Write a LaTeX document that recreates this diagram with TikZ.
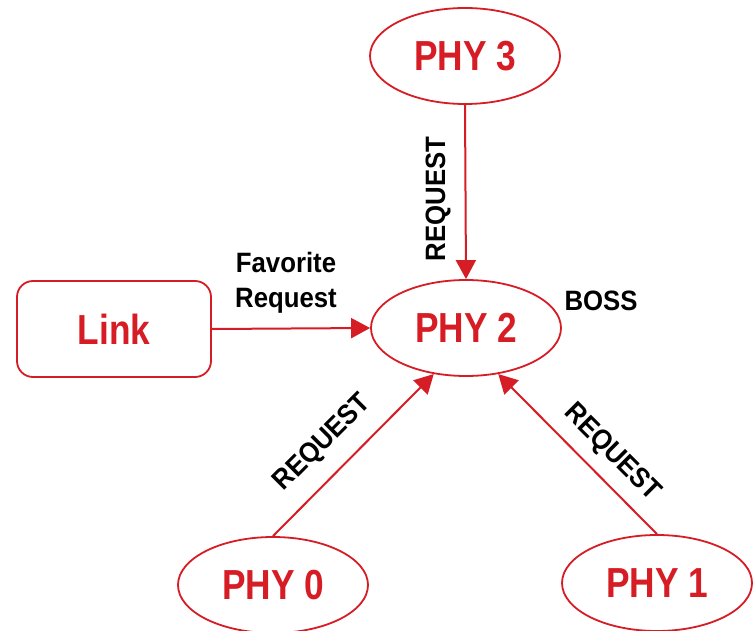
\documentclass[tikz,border=0pt]{standalone}
\usepackage{fontspec}
\usetikzlibrary{shapes.geometric,arrows.meta}
\newfontfamily\nodefont[FakeStretch=0.84]{Liberation Sans}
\newfontfamily\labelfont[FakeStretch=0.92]{Liberation Sans}
\definecolor{phyred}{RGB}{214,28,36}
\tikzset{
  phy/.style={ellipse, draw=phyred, line width=1.8pt, minimum width=190pt,
    minimum height=96pt, inner sep=0pt, text=phyred,
    font=\nodefont\bfseries\fontsize{42}{44}\selectfont},
  linkbox/.style={rectangle, rounded corners=16pt, draw=phyred, line width=1.8pt,
    minimum width=194pt, minimum height=96pt, inner sep=0pt, text=phyred,
    font=\nodefont\bfseries\fontsize{42}{44}\selectfont},
  msg/.style={draw=phyred, line width=2pt,
    -{Triangle[length=19pt,width=20pt]}},
  lbl/.style={text=black, inner sep=0pt,
    font=\labelfont\bfseries\fontsize{28}{35}\selectfont}
}
\begin{document}
\begin{tikzpicture}[x=1pt,y=-1pt]
  \useasboundingbox (0,0) rectangle (755,631);

  % nodes
  \node[phy] (phy3) at (465,56) {PHY 3};
  \node[phy] (phy2) at (466,328) {PHY 2};
  \node[phy] (phy0) at (273,585) {PHY 0};
  \node[phy] (phy1) at (657,583) {PHY 1};
  \node[linkbox] (link) at (114,329) {Link};

  % requests towards the boss
  \draw[msg] (phy3.south) -- (phy2.north);
  \draw[msg] (link.east) -- (phy2.west);
  \draw[msg] (phy0.north) -- (phy2.235);
  \draw[msg] (phy1.north) -- (phy2.305);

  % labels
  \node[lbl, rotate=90] (reqtop) at (438,199) {REQUEST};
  \node[lbl, rotate=45] (reqleft) at (323,443) {REQUEST};
  \node[lbl, rotate=-45] (reqright) at (612,453) {REQUEST};
  \node[lbl, align=center] (fav) at (286,283) {Favorite\\Request};
  \node[lbl] (boss) at (601,301) {BOSS};
\end{tikzpicture}
\end{document}
